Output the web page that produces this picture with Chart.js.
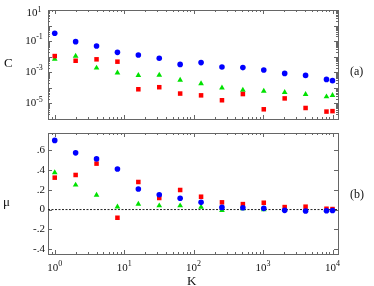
<!DOCTYPE html>
<html lang="en">
<head>
    <meta charset="UTF-8">
    <title>C and mu versus K</title>
    <script src="https://cdn.jsdelivr.net/npm/chart.js"></script>
    <style>
        body {
            margin: 0;
            background: white;
        }
        #wrap {
            position: relative;
            width: 374px;
            height: 286px;
            font-family: 'Liberation Serif', serif;
            color: #111;
        }
        canvas {
            position: absolute;
            left: 0;
        }
        .lbl {
            position: absolute;
            line-height: 1;
            white-space: nowrap;
        }
    </style>
</head>
<body>

<div id="wrap">
    <canvas id="topChart" width="374" height="125" style="top:0"></canvas>
    <canvas id="botChart" width="374" height="161" style="top:125px"></canvas>
    <div class="lbl" style="left:4px;top:56px;font-size:13px">C</div>
    <div class="lbl" style="left:3px;top:195px;font-size:13px">μ</div>
    <div class="lbl" style="left:187px;top:274px;font-size:13px">K</div>
    <div class="lbl" style="left:350px;top:65px;font-size:12px">(a)</div>
    <div class="lbl" style="left:350px;top:188px;font-size:12px">(b)</div>
</div>

<script>
    // data
    const K = [1, 2, 4, 8, 16, 32, 64, 128, 256, 512, 1024, 2048, 4096, 8192, 10000];

    const cBlue  = [0.32, 0.093, 0.049, 0.019, 0.013, 0.008, 0.0032, 0.0042, 0.0022, 0.002, 0.0014, 8.5e-4, 6.3e-4, 3.5e-4, 2.9e-4];
    const cRed   = [0.011, 0.0055, 0.0068, 0.0048, 8.1e-5, 1.1e-4, 4.3e-5, 3.3e-5, 1.6e-5, 4e-5, 4.2e-6, 2.1e-5, 5.1e-6, 3e-6, 3.2e-6];
    const cGreen = [0.0071, 0.011, 0.0019, 9.3e-4, 6.3e-4, 6.7e-4, 3.2e-4, 1.9e-4, 1e-4, 7.2e-5, 6.3e-5, 5.2e-5, 3.8e-5, 2.7e-5, 3.3e-5];

    const muBlue  = [0.70, 0.574, 0.513, 0.41, 0.208, 0.15, 0.114, 0.073, 0.022, 0.018, 0.012, -0.008, -0.015, -0.012, -0.01];
    const muRed   = [0.323, 0.35, 0.465, -0.083, 0.279, 0.117, 0.198, 0.13, 0.073, 0.055, 0.069, 0.025, 0.029, 0.008, 0.005];
    const muGreen = [0.374, 0.249, 0.147, 0.028, 0.056, 0.039, 0.039, 0.025, -0.008, 0.01, 0.0, 0.0, -0.002, -0.005, -0.005];

    const xLabelExp = [0, 1, 2, 3, 4];
    const cLabelExp = [1, -1, -3, -5];
    const muTicks = [-0.4, -0.2, 0, 0.2, 0.4, 0.6];
    const muTickLabels = ['-.4', '-.2', '0', '.2', '.4', '.6'];

    const X_MIN = 0.8, X_MAX = 12000;
    const C_MIN = 1e-6, C_MAX = 10;

    const BLUE = 'rgb(0,0,255)';
    const RED = 'rgb(255,0,0)';
    const GREEN = 'rgb(0,225,0)';
    const AXIS = '#666';
    const FONT = '"Liberation Serif", serif';

    const pts = (ys) => K.map((k, i) => ({ x: k, y: ys[i] }));

    function series(ys, color, style, radius, order) {
        return {
            data: pts(ys),
            showLine: false,
            pointStyle: style,
            pointRadius: radius,
            pointBorderWidth: 0,
            backgroundColor: color,
            borderColor: color,
            order: order
        };
    }

    function drawPow(ctx, exp, x, y) {
        ctx.font = '11px ' + FONT;
        const w1 = ctx.measureText('10').width;
        ctx.font = '8px ' + FONT;
        const w2 = ctx.measureText(String(exp)).width;
        const x0 = x - (w1 + w2) / 2;
        ctx.textAlign = 'left';
        ctx.textBaseline = 'middle';
        ctx.font = '11px ' + FONT;
        ctx.fillText('10', x0, y);
        ctx.font = '8px ' + FONT;
        ctx.fillText(String(exp), x0 + w1, y - 4);
    }

    // log ticks (value, length) between lo and hi
    function logTicks(lo, hi) {
        const out = [];
        for (let e = Math.floor(Math.log10(lo)); e <= Math.ceil(Math.log10(hi)); e++) {
            for (let m = 1; m <= 9; m++) {
                const v = m * Math.pow(10, e);
                if (v >= lo && v <= hi) out.push([v, m === 1 ? 4 : 2]);
            }
        }
        return out;
    }

    // box, inward ticks and tick labels
    function axesPlugin(kind) {
        return {
            id: 'axes-' + kind,
            beforeDatasetsDraw(chart) {
                const { ctx, chartArea: a, scales: { x, y } } = chart;
                ctx.save();
                ctx.strokeStyle = AXIS;
                ctx.lineWidth = 1;
                ctx.beginPath();
                logTicks(X_MIN, X_MAX).forEach(([v, len]) => {
                    const px = Math.round(x.getPixelForValue(v)) + 0.5;
                    ctx.moveTo(px, a.top); ctx.lineTo(px, a.top + len);
                    ctx.moveTo(px, a.bottom); ctx.lineTo(px, a.bottom - len);
                });
                const yt = kind === 'c' ? logTicks(C_MIN, C_MAX) : muTicks.map(v => [v, 4]);
                yt.forEach(([v, len]) => {
                    const py = Math.round(y.getPixelForValue(v)) + 0.5;
                    ctx.moveTo(a.left, py); ctx.lineTo(a.left + len, py);
                    ctx.moveTo(a.right, py); ctx.lineTo(a.right - len, py);
                });
                ctx.stroke();
                ctx.strokeRect(Math.round(a.left) + 0.5, Math.round(a.top) + 0.5,
                    Math.round(a.right - a.left), Math.round(a.bottom - a.top));

                ctx.fillStyle = '#111';
                if (kind === 'c') {
                    cLabelExp.forEach(e => {
                        const py = Math.max(y.getPixelForValue(Math.pow(10, e)), a.top + 3.5);
                        drawPow(ctx, e, a.left - 14, py);
                    });
                } else {
                    ctx.font = '11px ' + FONT;
                    ctx.textAlign = 'right';
                    ctx.textBaseline = 'middle';
                    muTicks.forEach((v, i) => {
                        ctx.fillText(muTickLabels[i], a.left - 3, y.getPixelForValue(v));
                    });
                    xLabelExp.forEach(e => {
                        drawPow(ctx, e, x.getPixelForValue(Math.pow(10, e)), a.bottom + 14);
                    });
                }
                ctx.restore();
            }
        };
    }

    const baseOptions = (yScale, padding) => ({
        responsive: false,
        animation: false,
        layout: { padding: padding },
        plugins: { legend: { display: false }, tooltip: { enabled: false } },
        scales: {
            x: { type: 'logarithmic', min: X_MIN, max: X_MAX, display: false },
            y: Object.assign({ display: false }, yScale)
        }
    });

    new Chart(document.getElementById('topChart'), {
        type: 'scatter',
        data: {
            datasets: [
                series(cBlue, BLUE, 'circle', 2.8, 0),
                series(cRed, RED, 'rect', 3.2, 1),
                series(cGreen, GREEN, 'triangle', 3.3, 2)
            ]
        },
        options: baseOptions({ type: 'logarithmic', min: C_MIN, max: C_MAX },
            { left: 48, top: 10, right: 36, bottom: 6 }),
        plugins: [axesPlugin('c')]
    });

    new Chart(document.getElementById('botChart'), {
        type: 'scatter',
        data: {
            datasets: [
                {
                    data: [{ x: X_MIN, y: 0 }, { x: X_MAX, y: 0 }],
                    showLine: true,
                    borderColor: '#222',
                    borderWidth: 1,
                    borderDash: [2, 1.5],
                    pointRadius: 0,
                    order: 3
                },
                series(muBlue, BLUE, 'circle', 2.8, 0),
                series(muRed, RED, 'rect', 3.2, 1),
                series(muGreen, GREEN, 'triangle', 3.3, 2)
            ]
        },
        options: baseOptions({ type: 'linear', min: -0.45, max: 0.775 },
            { left: 48, top: 8, right: 36, bottom: 32 }),
        plugins: [axesPlugin('mu')]
    });
</script>

</body>
</html>
